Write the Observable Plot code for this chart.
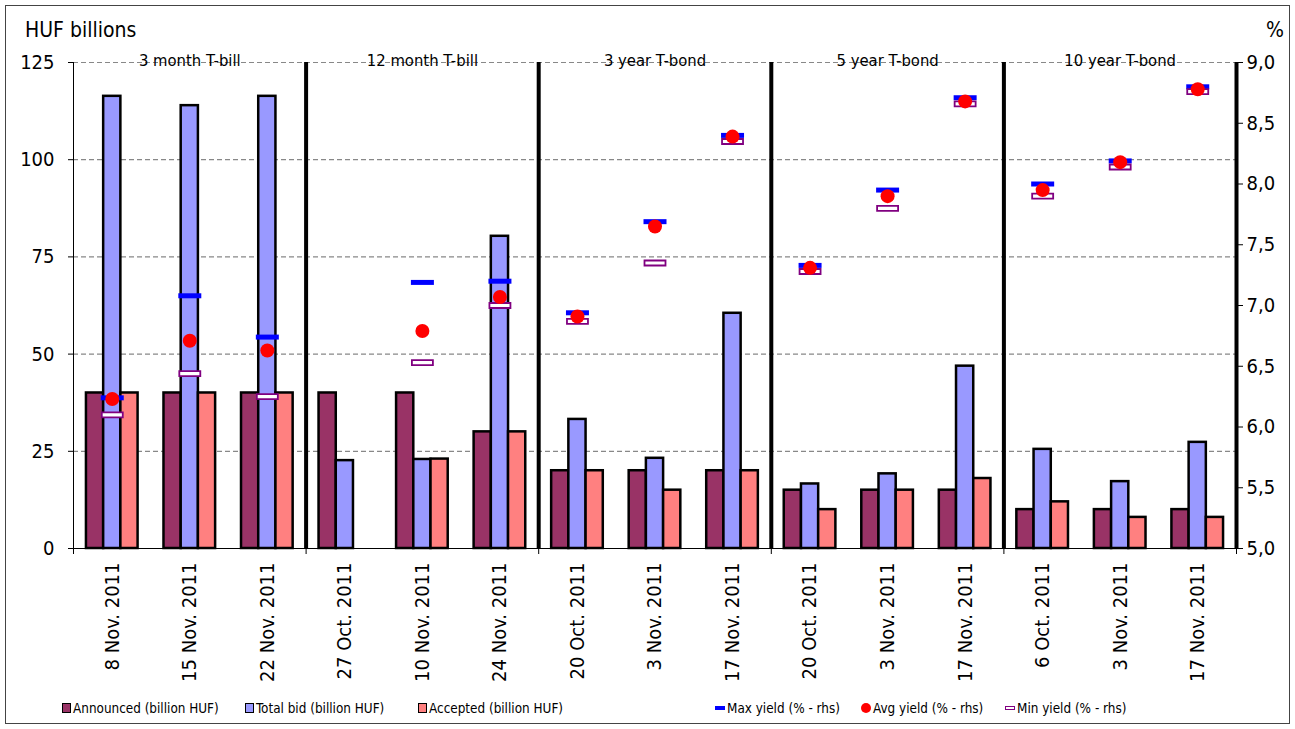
<!DOCTYPE html>
<html><head><meta charset="utf-8">
<script src="https://cdn.jsdelivr.net/npm/d3@7"></script>
<script src="https://cdn.jsdelivr.net/npm/@observablehq/plot@0.6"></script>
<style>
body{margin:0;background:#fff;font-family:"DejaVu Sans Condensed","DejaVu Sans",sans-serif;}
#wrap{position:relative;width:1295px;height:729px;overflow:hidden;background:#fff}
#frame{position:absolute;left:5px;top:5px;width:1285px;height:719px;border:1.5px solid #444;box-sizing:border-box;pointer-events:none}
.lbl{position:absolute;font-size:21px;color:#000;line-height:1}
#legend{position:absolute;top:697px;left:0;width:1295px;height:22px;font-size:13.4px}
.item{position:absolute;top:0;display:flex;align-items:center;height:22px;white-space:nowrap}
.sw{width:7px;height:8px;border:1.5px solid #000;margin-right:2px}
#chart{position:absolute;left:0;top:0}
</style></head><body>
<div id="wrap">
  <div id="chart"></div>
  <div class="lbl" id="ttl" style="left:25px;top:20px;">HUF billions</div>
  <div class="lbl" id="pct" style="left:1266px;top:20px;">%</div>
  <div id="legend"></div>
  <div id="frame"></div>
</div>
<script>
const categories = ["8 Nov. 2011","15 Nov. 2011","22 Nov. 2011","27 Oct. 2011","10 Nov. 2011","24 Nov. 2011","20 Oct. 2011","3 Nov. 2011","17 Nov. 2011","20 Oct. 2011","3 Nov. 2011","17 Nov. 2011","6 Oct. 2011","3 Nov. 2011","17 Nov. 2011"];
const groups = ["3 month T-bill","12 month T-bill","3 year T-bond","5 year T-bond","10 year T-bond"];
const announced = [40,40,40,40,40,30,20,20,20,15,15,15,10,10,10];
const totalBid = [116.3,113.9,116.3,22.6,22.9,80.3,33.2,23.2,60.5,16.6,19.2,46.9,25.5,17.2,27.3];
const accepted = [40,40,40,null,23,30,20,15,20,10,15,18,12,8,8];
const maxYield = [6.24,7.08,6.74,null,7.19,7.20,6.94,7.69,8.40,7.33,7.95,8.71,8.00,8.19,8.80];
const avgYield = [6.23,6.71,6.63,null,6.79,7.07,6.91,7.65,8.39,7.31,7.90,8.68,7.95,8.18,8.78];
const minYield = [6.10,6.44,6.25,null,6.53,7.00,6.87,7.35,8.35,7.28,7.80,8.66,7.90,8.14,8.76];
const leftTicks = [0,25,50,75,100,125];
const rightTicks = [5.0,5.5,6.0,6.5,7.0,7.5,8.0,8.5,9.0];
const seriesNames = ["Announced (billion HUF)","Total bid (billion HUF)","Accepted (billion HUF)"];
const seriesColors = ["#993366","#9999FF","#FF8080"];
const yieldNames = ["Max yield (% - rhs)","Avg yield (% - rhs)","Min yield (%  - rhs)"];

// map right-axis (%) values onto left scale units
const rMin = rightTicks[0], rMax = rightTicks[rightTicks.length-1];
const lMax = leftTicks[leftTicks.length-1];
const toLeft = v => (v - rMin) * lMax / (rMax - rMin);
const fromLeft = v => v * (rMax - rMin) / lMax + rMin;

const bw = 0.222;
const seriesArrays = [announced, totalBid, accepted];
const bars = [];
seriesArrays.forEach((arr, k) => arr.forEach((v, i) => {
  if (v != null) bars.push({i, series: seriesNames[k], value: v, x1: i + 0.5 + (k - 1.5) * bw, x2: i + 0.5 + (k - 0.5) * bw});
}));
const yrows = (arr) => arr.map((v, i) => ({x: i + 0.5, y: v == null ? null : toLeft(v)})).filter(d => d.y != null);

const rectSym = (w, h) => ({draw(ctx){ctx.moveTo(-w/2,-h/2);ctx.lineTo(w/2,-h/2);ctx.lineTo(w/2,h/2);ctx.lineTo(-w/2,h/2);ctx.closePath();}});

const n = categories.length;
const groupEdges = d3.range(0, n + 1, 3);

const chart = Plot.plot({
  width: 1295, height: 690,
  marginLeft: 73, marginRight: 59, marginTop: 62, marginBottom: 142,
  style: {fontFamily: '"DejaVu Sans Condensed","DejaVu Sans",sans-serif', background: "transparent", color: "#000"},
  x: {domain: [0, n]},
  y: {domain: [0, lMax]},
  color: {domain: seriesNames, range: seriesColors},
  marks: [
    Plot.ruleY(leftTicks.slice(1), {stroke: "#888", strokeWidth: 1.2, strokeDasharray: "5,3"}),
    Plot.text(groups, {x: (d, i) => i * 3 + 1.5, y: lMax, text: d => d, lineAnchor: "bottom", dy: 3, fontSize: 16.5}),
    Plot.rect(bars, {x1: "x1", x2: "x2", y1: 0, y2: "value", fill: "series", stroke: "#000", strokeWidth: 2.5}),
    Plot.ruleY([0], {stroke: "#000", strokeWidth: 1}),
    Plot.ruleX([0], {stroke: "#000", strokeWidth: 1}),
    Plot.ruleX(groupEdges.slice(1), {y1: 0, y2: lMax, stroke: "#000", strokeWidth: 4}),
    Plot.axisY({ticks: leftTicks, tickSize: 5, tickPadding: 14, fontSize: 20, label: null}),
    Plot.axisY({anchor: "right", ticks: rightTicks.map(toLeft), tickFormat: d => fromLeft(d).toFixed(1).replace(".", ","), tickSize: 6, tickPadding: 4, fontSize: 20, label: null}),
    Plot.axisX({ticks: categories.map((c, i) => i + 0.5), tickFormat: d => categories[Math.floor(d)], tickRotate: -90, tickSize: 0, tickPadding: 14, fontSize: 20, label: null}),
    Plot.axisX({ticks: groupEdges, tickFormat: () => "", tickSize: 6, label: null}),
    Plot.dot(yrows(maxYield), {x: "x", y: "y", symbol: rectSym(23, 5), r: 5, fill: "#0000FF", stroke: "none"}),
    Plot.dot(yrows(minYield), {x: "x", y: "y", symbol: rectSym(21, 5), r: 5, fill: "#fff", stroke: "#800080", strokeWidth: 1.8}),
    Plot.dot(yrows(avgYield), {x: "x", y: "y", r: 7, fill: "#FF0000", stroke: "none"})
  ]
});
document.getElementById("chart").appendChild(chart);

// legend
const legend = document.getElementById("legend");
const legendItems = [
  {name: seriesNames[0], left: 62, sw: `<span class="sw" style="background:${seriesColors[0]}"></span>`},
  {name: seriesNames[1], left: 245, sw: `<span class="sw" style="background:${seriesColors[1]}"></span>`},
  {name: seriesNames[2], left: 418, sw: `<span class="sw" style="background:${seriesColors[2]}"></span>`},
  {name: yieldNames[0], left: 715, sw: `<span style="display:inline-block;width:10px;height:4px;background:#0000FF;margin-right:2px"></span>`},
  {name: yieldNames[1], left: 861, sw: `<span style="display:inline-block;width:10px;height:10px;border-radius:50%;background:#FF0000;margin-right:2px"></span>`},
  {name: yieldNames[2], left: 1005, sw: `<span style="display:inline-block;width:8px;height:2px;border:1.5px solid #800080;background:#fff;margin-right:2px"></span>`}
];
legendItems.forEach(it => {
  const d = document.createElement("div");
  d.className = "item";
  d.style.left = it.left + "px";
  d.innerHTML = it.sw + `<span>${it.name}</span>`;
  legend.appendChild(d);
});
</script>
</body></html>
